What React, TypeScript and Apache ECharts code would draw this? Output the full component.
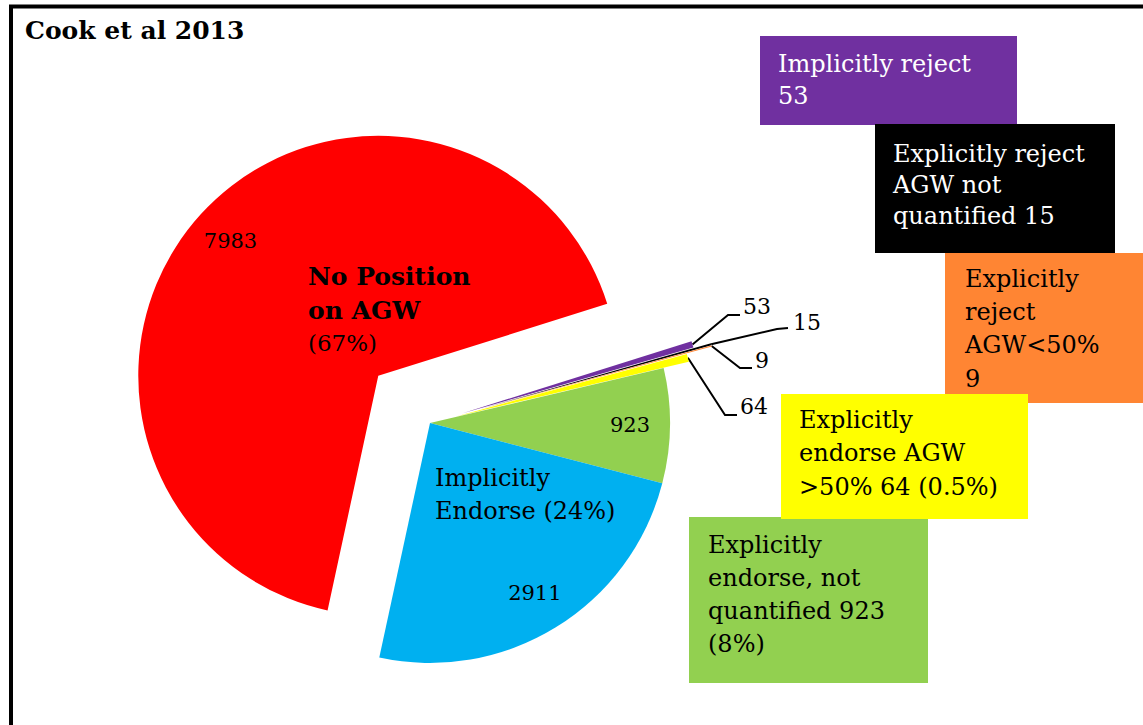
import React, { useEffect, useRef } from "react";
import * as echarts from "echarts";

// ---- data ----
const categories = [
  "No Position on AGW",
  "Implicitly reject",
  "Explicitly reject AGW not quantified",
  "Explicitly reject AGW<50%",
  "Explicitly endorse AGW >50%",
  "Explicitly endorse, not quantified",
  "Implicitly Endorse",
];
const values = [7983, 53, 15, 9, 64, 923, 2911];
const sliceColors = ["#FF0000", "#7030A0", "#000000", "#FF8533", "#FFFF00", "#92D050", "#00B0F0"];

const boxTexts = [
  "Implicitly reject\n53",
  "Explicitly reject\nAGW not\nquantified 15",
  "Explicitly\nreject\nAGW<50%\n9",
  "Explicitly\nendorse, not\nquantified 923\n(8%)",
  "Explicitly\nendorse AGW\n>50% 64 (0.5%)",
];
const titleText = "Cook et al 2013";
const redNote = ["No Position", "on AGW", "(67%)"];
const blueNote = "Implicitly\nEndorse (24%)";

// ---- presentation ----
const FONT = "DejaVu Serif";
const BOX_FS = 24;
const CX = 430;
const CY = 423;
const R = 240;
const START = 257.8;
const explode = [70, 34, 52, 52, 26, 0, 0];
const insideLabelRadius = 200;
const insideIdx = [0, 5, 6];
// outside label geometry: elbow, end of line, label anchor (left-middle)
const outsideCfg: Record<number, { elbow: number[]; end: number[]; label: number[] }> = {
  1: { elbow: [728, 315], end: [740, 315], label: [743, 306] },
  2: { elbow: [777, 329], end: [788, 328], label: [793, 322] },
  3: { elbow: [740, 368], end: [752, 368], label: [755, 360] },
  4: { elbow: [725, 415], end: [737, 415], label: [740, 406] },
};

const boxes = [
  { x: 760, y: 36, w: 257, h: 89, fill: "#7030A0", color: "#fff", tx: 778, ty: 48, lh: 32 },
  { x: 875, y: 124, w: 240, h: 129, fill: "#000000", color: "#fff", tx: 893, ty: 138, lh: 31 },
  { x: 945, y: 253, w: 210, h: 150, fill: "#FF8533", color: "#000", tx: 965, ty: 262, lh: 33.3 },
  { x: 689, y: 517, w: 239, h: 166, fill: "#92D050", color: "#000", tx: 708, ty: 528, lh: 33 },
  { x: 781, y: 394, w: 247, h: 125, fill: "#FFFF00", color: "#000", tx: 799, ty: 403, lh: 33.5 },
];

const rad = (d: number) => (d * Math.PI) / 180;

export default function App() {
  const ref = useRef<HTMLDivElement>(null);
  useEffect(() => {
    if (!ref.current) return;
    const chart = echarts.init(ref.current, undefined, { renderer: "svg" });
    const total = values.reduce((a, b) => a + b, 0);
    const mids: number[] = [];
    let a = START;
    values.forEach((v) => {
      const span = (v / total) * 360;
      mids.push(a - span / 2);
      a -= span;
    });
    const centers = values.map((_, i) => [
      CX + explode[i] * Math.cos(rad(mids[i])),
      CY - explode[i] * Math.sin(rad(mids[i])),
    ]);

    const series = values.map((_, i) => {
      const inside = insideIdx.includes(i);
      return {
        type: "pie",
        name: categories[i],
        startAngle: START,
        clockwise: true,
        center: centers[i],
        radius: R,
        avoidLabelOverlap: false,
        silent: true,
        emphasis: { disabled: true },
        z: 2,
        label: {
          position: inside ? "inside" : "outside",
          formatter: "{c}",
          color: "#000",
          fontFamily: FONT,
          fontSize: inside ? 21 : 22,
        },
        labelLine: { lineStyle: { color: "#000", width: 2 }, smooth: false },
        data: values.map((v, j) => ({
          name: categories[j],
          value: v,
          itemStyle: { color: j === i ? sliceColors[j] : "rgba(0,0,0,0)", borderWidth: 0 },
          label: { show: j === i },
          labelLine: { show: j === i && !inside },
        })),
        labelLayout: (p: any) => {
          if (p.dataIndex !== i) return {};
          if (inside) {
            return {
              x: centers[i][0] + insideLabelRadius * Math.cos(rad(mids[i])),
              y: centers[i][1] - insideLabelRadius * Math.sin(rad(mids[i])),
              align: "center",
              verticalAlign: "middle",
            };
          }
          const c = outsideCfg[i];
          const tip = [
            centers[i][0] + R * Math.cos(rad(mids[i])),
            centers[i][1] - R * Math.sin(rad(mids[i])),
          ];
          return {
            x: c.label[0],
            y: c.label[1],
            align: "left",
            verticalAlign: "middle",
            labelLinePoints: [tip, c.elbow, c.end],
          };
        },
      };
    });

    const graphic: any[] = [
      {
        type: "rect",
        shape: { x: 11, y: 6.5, width: 1200, height: 800 },
        style: { fill: "none", stroke: "#000", lineWidth: 4 },
        silent: true,
        z: 30,
      },
      {
        type: "text",
        x: 25,
        y: 30.5,
        z: 30,
        style: { text: titleText, fill: "#000", fontFamily: FONT, fontWeight: "bold", fontSize: 25, verticalAlign: "middle" },
      },
      {
        type: "text",
        x: 308,
        y: 259,
        z: 30,
        style: {
          text: `{b|${redNote[0]}}\n{b|${redNote[1]}}\n{n|${redNote[2]}}`,
          fill: "#000",
          verticalAlign: "top",
          rich: {
            b: { fontFamily: FONT, fontWeight: "bold", fontSize: 25, lineHeight: 34, fill: "#000" },
            n: { fontFamily: FONT, fontSize: 23, lineHeight: 32, fill: "#000" },
          },
        },
      },
      {
        type: "text",
        x: 435,
        y: 461,
        z: 30,
        style: { text: blueNote, fill: "#000", fontFamily: FONT, fontSize: 24, lineHeight: 33, verticalAlign: "top" },
      },
    ];
    boxes.forEach((b, k) => {
      graphic.push({
        type: "rect",
        shape: { x: b.x, y: b.y, width: b.w, height: b.h },
        style: { fill: b.fill },
        z: 10 + k,
      });
      graphic.push({
        type: "text",
        x: b.tx,
        y: b.ty,
        z: 10 + k,
        style: { text: boxTexts[k], fill: b.color, fontFamily: FONT, fontSize: BOX_FS, lineHeight: b.lh, verticalAlign: "top" },
      });
    });

    chart.setOption({
      animation: false,
      backgroundColor: "#fff",
      series,
      graphic,
    } as any);
    return () => chart.dispose();
  }, []);
  return (
    <div
      ref={ref}
      style={{ position: "fixed", left: 0, top: 0, width: 1143, height: 725, background: "#fff" }}
    />
  );
}
